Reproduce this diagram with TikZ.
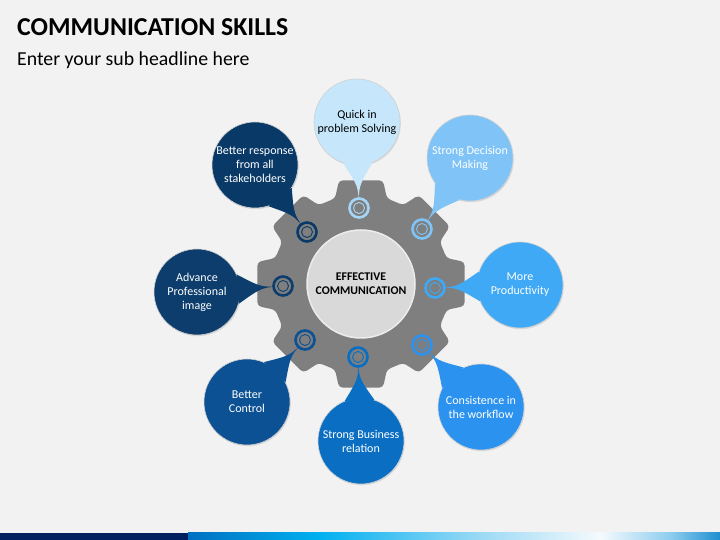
\documentclass[tikz,border=0pt]{standalone}
\usepackage{fontspec}
\setmainfont{Carlito}
\usetikzlibrary{calc,shadows}
\definecolor{bgcol}{HTML}{F2F2F2}
\definecolor{gearcol}{HTML}{7F7F7F}
\definecolor{centcol}{HTML}{D9D9D9}
\definecolor{col1}{HTML}{C6E6FB}
\definecolor{ring1}{HTML}{A6D6F7}
\definecolor{col2}{HTML}{80C4F7}
\definecolor{col3}{HTML}{3FA9F5}
\definecolor{col4}{HTML}{2B92EF}
\definecolor{col5}{HTML}{0A6FC3}
\definecolor{col6}{HTML}{0B5193}
\definecolor{col7}{HTML}{0C3D6D}
\definecolor{col8}{HTML}{083967}
\definecolor{navy}{HTML}{002060}
\definecolor{bar1}{HTML}{0070C0}
\definecolor{bar2}{HTML}{00B0F0}
\definecolor{bar3}{HTML}{9BD9F5}
\definecolor{bar4}{HTML}{F5FAFD}
\definecolor{bar5}{HTML}{8FCDEF}
\definecolor{bar6}{HTML}{1F8FD0}

\begin{document}
\begin{tikzpicture}[x=1pt,y=1pt]
\tikzset{
    bub/.style={%
        circle, inner sep=0pt,
        minimum size=86pt,
        draw=black!18, line width=0.6pt,
        align=center, text=white,
        font=\fontsize{12}{14}\selectfont,
        drop shadow={shadow xshift=0.8pt, shadow yshift=-1.2pt, opacity=0.22}
        },
    ring/.style={%
        circle, inner sep=0pt,
        minimum size=19pt,
        line width=2.6pt,
        fill=gearcol
        },
    inring/.style={%
        line width=0.9pt
        },
}
%%%BACKGROUND
\fill[bgcol] (0,0) rectangle (720,540);
\useasboundingbox (0,0) rectangle (720,540);
%%%TITLE
\node[anchor=base west, inner sep=0pt, font=\fontsize{25.8}{30}\selectfont\bfseries] (title) at (17,504) {COMMUNICATION SKILLS};
\node[anchor=base west, inner sep=0pt, font=\fontsize{19.8}{23}\selectfont] (sub) at (17,474) {Enter your sub headline here};
%%%GEAR
\begin{scope}[shift={(361,256)}]
\fill[gearcol, rounded corners=4pt] (-22.5:89)
  \foreach \a in {0,45,...,315}{
    arc[start angle=\a-22.5, end angle=\a-17, radius=89pt]
    -- (\a-12:106) -- (\a+12:106) -- (\a+17:89)
    arc[start angle=\a+17, end angle=\a+22.5, radius=89pt]
  };
\end{scope}
\node[circle, fill=centcol, draw=white!85!gray, line width=1.5pt, minimum size=108pt,
  align=center, font=\fontsize{11.8}{14}\selectfont\bfseries] (c0) at (361,256) {EFFECTIVE\\COMMUNICATION};
%%%BUBBLES
\node[bub, fill=col1, text=black] (b1) at (357,418) {Quick in\\problem Solving};
\node[bub, fill=col2] (b2) at (470,382) {Strong Decision\\Making};
\node[bub, fill=col3] (b3) at (520,255) {More\\Productivity};
\node[bub, fill=col4] (b4) at (481,133) {Consistence in\\the workflow};
\node[bub, fill=col5] (b5) at (361,99) {Strong Business\\relation};
\node[bub, fill=col6] (b6) at (247,138) {Better\\Control};
\node[bub, fill=col7] (b7) at (197,248) {Advance\\Professional\\image};
\node[bub, fill=col8] (b8) at (255,375) {Better response\\from all\\stakeholders};
%%%POINTS
\coordinate (p1) at (359,332);
\coordinate (p2) at (422,311);
\coordinate (p3) at (435,252);
\coordinate (p4) at (422,195);
\coordinate (p5) at (358,183);
\coordinate (p6) at (305,200);
\coordinate (p7) at (283,254);
\coordinate (p8) at (307,308);
%%%TAILS
\fill[col1] (b1.-69) .. controls ($(b1)!0.75!(p1)$) .. (p1) .. controls ($(b1)!0.75!(p1)$) .. (b1.-109) -- cycle;
\fill[col2] (b2.216) .. controls ($(b2)!0.75!(p2)$) .. (p2) .. controls ($(b2)!0.75!(p2)$) .. (b2.256) -- cycle;
\fill[col3] (b3.162) .. controls ($(b3)!0.75!(p3)$) .. (p3) .. controls ($(b3)!0.75!(p3)$) .. (b3.202) -- cycle;
\fill[col4] (b4.114) .. controls ($(b4)!0.75!(p4)$) .. (p4) .. controls ($(b4)!0.75!(p4)$) .. (b4.154) -- cycle;
\fill[col5] (b5.72) .. controls ($(b5)!0.75!(p5)$) .. (p5) .. controls ($(b5)!0.75!(p5)$) .. (b5.112) -- cycle;
\fill[col6] (b6.27) .. controls ($(b6)!0.75!(p6)$) .. (p6) .. controls ($(b6)!0.75!(p6)$) .. (b6.67) -- cycle;
\fill[col7] (b7.-16) .. controls ($(b7)!0.75!(p7)$) .. (p7) .. controls ($(b7)!0.75!(p7)$) .. (b7.24) -- cycle;
\fill[col8] (b8.-72) .. controls ($(b8)!0.75!(p8)$) .. (p8) .. controls ($(b8)!0.75!(p8)$) .. (b8.-32) -- cycle;
%%%RINGS
\node[ring, draw=ring1] (r1) at (p1) {};
\node[ring, draw=col2] (r2) at (p2) {};
\node[ring, draw=col3] (r3) at (p3) {};
\node[ring, draw=col4] (r4) at (p4) {};
\node[ring, draw=col5] (r5) at (p5) {};
\node[ring, draw=col6] (r6) at (p6) {};
\node[ring, draw=col7] (r7) at (p7) {};
\node[ring, draw=col8] (r8) at (p8) {};
\draw[inring, ring1] (r1.center) circle (5.5);
\draw[inring, col2] (r2.center) circle (5.5);
\draw[inring, col3] (r3.center) circle (5.5);
\draw[inring, col4] (r4.center) circle (5.5);
\draw[inring, col5] (r5.center) circle (5.5);
\draw[inring, col6] (r6.center) circle (5.5);
\draw[inring, col7] (r7.center) circle (5.5);
\draw[inring, col8] (r8.center) circle (5.5);
%%%BOTTOM BAR
\fill[navy] (0,0) rectangle (188,7);
\shade[left color=bar1, right color=bar2] (188,0) rectangle (318,7);
\shade[left color=bar2, right color=bar3] (318,0) rectangle (480,7);
\shade[left color=bar3, right color=bar4] (480,0) rectangle (600,7);
\shade[left color=bar4, right color=bar5] (600,0) rectangle (670,7);
\shade[left color=bar5, right color=bar6] (670,0) rectangle (720,7);
\end{tikzpicture}
\end{document}
